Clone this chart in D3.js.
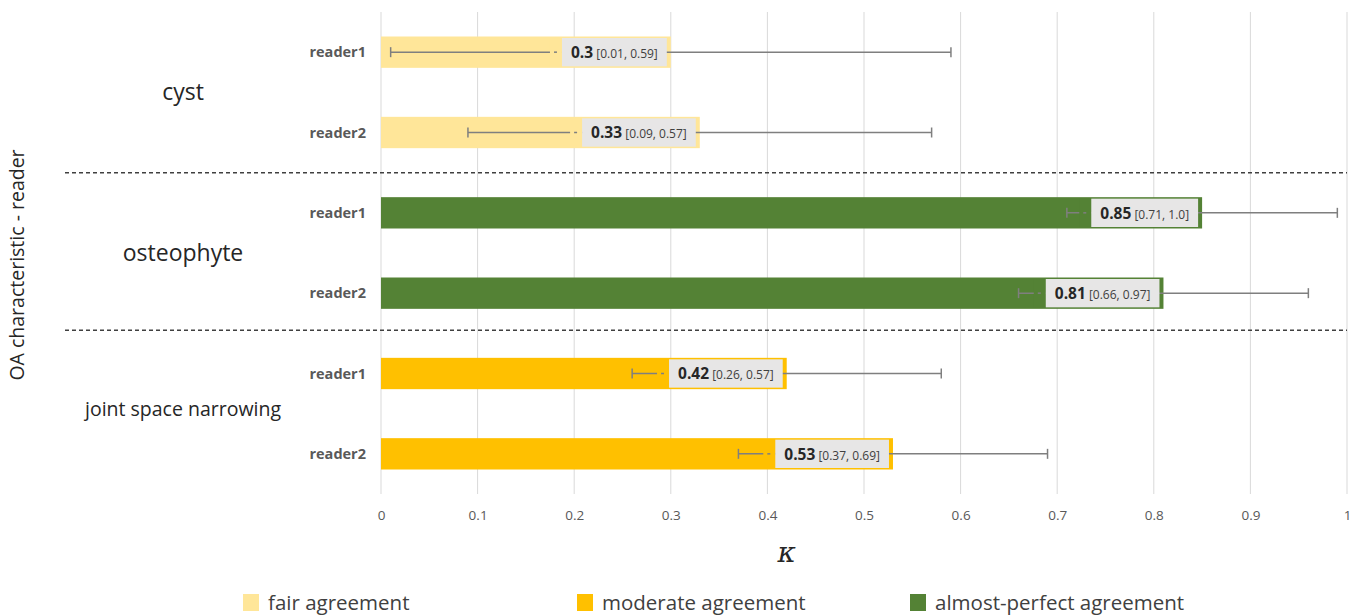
<!DOCTYPE html>
<html>
<head>
<meta charset="utf-8">
<script src="https://cdn.jsdelivr.net/npm/d3@7"></script>
<style>
  body { margin: 0; background: #fff; }
  text { font-family: "Open Sans", "Noto Sans", sans-serif; }
</style>
</head>
<body>
<div id="chart"></div>
<script>
// data
var groups = ["cyst", "osteophyte", "joint space narrowing"];
var readers = ["reader1", "reader2"];
var kappa = [0.3, 0.33, 0.85, 0.81, 0.42, 0.53];
var errLow = [0.01, 0.09, 0.71, 0.66, 0.26, 0.37];
var errHigh = [0.59, 0.57, 0.99, 0.96, 0.58, 0.69];
var ciLabels = ["[0.01, 0.59]", "[0.09, 0.57]", "[0.71, 1.0]", "[0.66, 0.97]", "[0.26, 0.57]", "[0.37, 0.69]"];
var agreement = ["fair", "fair", "almost", "almost", "moderate", "moderate"];
var xTicks = [0, 0.1, 0.2, 0.3, 0.4, 0.5, 0.6, 0.7, 0.8, 0.9, 1];
var legendKeys = ["fair", "moderate", "almost"];
var legendLabels = ["fair agreement", "moderate agreement", "almost-perfect agreement"];

var colors = { fair: "#ffe699", moderate: "#ffc000", almost: "#548235" };

var rows = [];
groups.forEach(function(g, gi) {
  readers.forEach(function(r, ri) {
    var i = gi * readers.length + ri;
    rows.push({ key: g + "|" + r, group: g, reader: r, value: kappa[i],
      lo: errLow[i], hi: errHigh[i], ci: ciLabels[i], agr: agreement[i] });
  });
});

var width = 1364, height = 615;
var margin = { top: 12, right: 16, bottom: 121, left: 381 };
var plotW = width - margin.left - margin.right;
var plotH = height - margin.top - margin.bottom;

var svg = d3.select("#chart").append("svg")
  .attr("width", width).attr("height", height);
var g = svg.append("g")
  .attr("transform", "translate(" + margin.left + "," + margin.top + ")");

var x = d3.scaleLinear().domain([0, 1]).range([0, plotW - 1]);
var y = d3.scaleBand().domain(rows.map(function(d) { return d.key; }))
  .range([0, plotH]).paddingInner(0.61).paddingOuter(0.305);

// grid
g.append("g").selectAll("line").data(xTicks).enter().append("line")
  .attr("x1", function(d) { return x(d); }).attr("x2", function(d) { return x(d); })
  .attr("y1", 0).attr("y2", plotH)
  .attr("stroke", "#d9d9d9").attr("stroke-width", 1);

// x tick labels
var xAxis = d3.axisBottom(x).tickValues(xTicks).tickSize(0).tickPadding(16)
  .tickFormat(function(d) { return d3.format("~g")(d); });
var ax = g.append("g").attr("transform", "translate(0," + plotH + ")").call(xAxis);
ax.select(".domain").remove();
ax.selectAll("text").attr("fill", "#595959").style("font-size", "13.5px")
  .style("font-family", "'Open Sans', sans-serif");

// bars
g.append("g").selectAll("rect").data(rows).enter().append("rect")
  .attr("x", x(0))
  .attr("y", function(d) { return y(d.key); })
  .attr("width", function(d) { return x(d.value) - x(0); })
  .attr("height", y.bandwidth())
  .attr("fill", function(d) { return colors[d.agr]; });

// error bars
var cap = 5;
var eb = g.append("g").attr("stroke", "#7f7f7f").attr("stroke-width", 1.5);
rows.forEach(function(d) {
  var cy = y(d.key) + y.bandwidth() / 2;
  eb.append("line").attr("x1", x(d.lo)).attr("x2", x(d.hi)).attr("y1", cy).attr("y2", cy);
  eb.append("line").attr("x1", x(d.lo)).attr("x2", x(d.lo)).attr("y1", cy - cap).attr("y2", cy + cap);
  eb.append("line").attr("x1", x(d.hi)).attr("x2", x(d.hi)).attr("y1", cy - cap).attr("y2", cy + cap);
});

// value labels in grey boxes
var lab = g.append("g");
rows.forEach(function(d) {
  var cy = y(d.key) + y.bandwidth() / 2;
  var t = lab.append("text").attr("y", cy).attr("dy", "0.36em").attr("fill", "#262626");
  t.append("tspan").attr("font-weight", "bold").style("font-size", "15.5px").text(d.value);
  t.append("tspan").style("font-size", "12px").attr("fill", "#404040").text(" " + d.ci);
  var tw = t.node().getComputedTextLength();
  var right = x(d.value) - 4;
  var boxW = tw + 18;
  var left = right - boxW;
  lab.insert("rect", "text")
    .attr("x", left - 12).attr("y", y(d.key) + 1.5)
    .attr("width", 12).attr("height", y.bandwidth() - 3)
    .attr("fill", colors[d.agr]);
  lab.insert("line", "text")
    .attr("x1", left - 8).attr("x2", left - 5).attr("y1", cy).attr("y2", cy)
    .attr("stroke", "#7f7f7f").attr("stroke-width", 1.5);
  lab.insert("rect", "text")
    .attr("x", left).attr("y", y(d.key) + 1.5)
    .attr("width", boxW).attr("height", y.bandwidth() - 3)
    .attr("fill", "#e7e6e6");
  t.attr("x", left + 9);
});

// reader labels
g.append("g").selectAll("text").data(rows).enter().append("text")
  .attr("x", -15)
  .attr("y", function(d) { return y(d.key) + y.bandwidth() / 2; })
  .attr("dy", "0.35em").attr("text-anchor", "end")
  .attr("fill", "#595959").attr("font-weight", "bold").style("font-size", "14.5px")
  .text(function(d) { return d.reader; });

// group labels and separators
var groupSizes = { "cyst": "23px", "osteophyte": "23px", "joint space narrowing": "19.5px" };
groups.forEach(function(gr, gi) {
  var first = y(gr + "|" + readers[0]);
  var last = y(gr + "|" + readers[readers.length - 1]) + y.bandwidth();
  g.append("text")
    .attr("x", -198).attr("y", (first + last) / 2 - (gi === 2 ? 4 : 0)).attr("dy", "0.35em")
    .attr("text-anchor", "middle").attr("fill", "#262626")
    .style("font-size", groupSizes[gr]).text(gr);
  if (gi < groups.length - 1) {
    var nextTop = y(groups[gi + 1] + "|" + readers[0]);
    var sy = (last + nextTop) / 2 - (gi === 1 ? 3 : 0);
    g.append("line")
      .attr("x1", 65 - margin.left).attr("x2", x(1))
      .attr("y1", sy).attr("y2", sy)
      .attr("stroke", "#404040").attr("stroke-width", 1.5)
      .attr("stroke-dasharray", "4,3");
  }
});

// axis titles
svg.append("text")
  .attr("transform", "translate(24," + (margin.top + plotH / 2 + 12) + ") rotate(-90)")
  .attr("text-anchor", "middle").attr("fill", "#262626").style("font-size", "19.5px")
  .text("OA characteristic - reader");

svg.append("text")
  .attr("x", margin.left + x(0.42)).attr("y", 562)
  .attr("text-anchor", "middle").attr("fill", "#262626")
  .style("font-family", "'DejaVu Serif', serif").style("font-style", "italic")
  .style("font-size", "28px").text("κ");

// legend
var legX = [243, 577, 910];
var leg = svg.append("g").selectAll("g").data(legendKeys).enter().append("g")
  .attr("transform", function(d, i) { return "translate(" + legX[i] + ",594)"; });
leg.append("rect").attr("width", 16).attr("height", 17)
  .attr("fill", function(d) { return colors[d]; });
leg.append("text").attr("x", 25).attr("y", 9).attr("dy", "0.35em")
  .attr("fill", "#404040").style("font-size", "20.5px")
  .text(function(d, i) { return legendLabels[i]; });
</script>
</body>
</html>
